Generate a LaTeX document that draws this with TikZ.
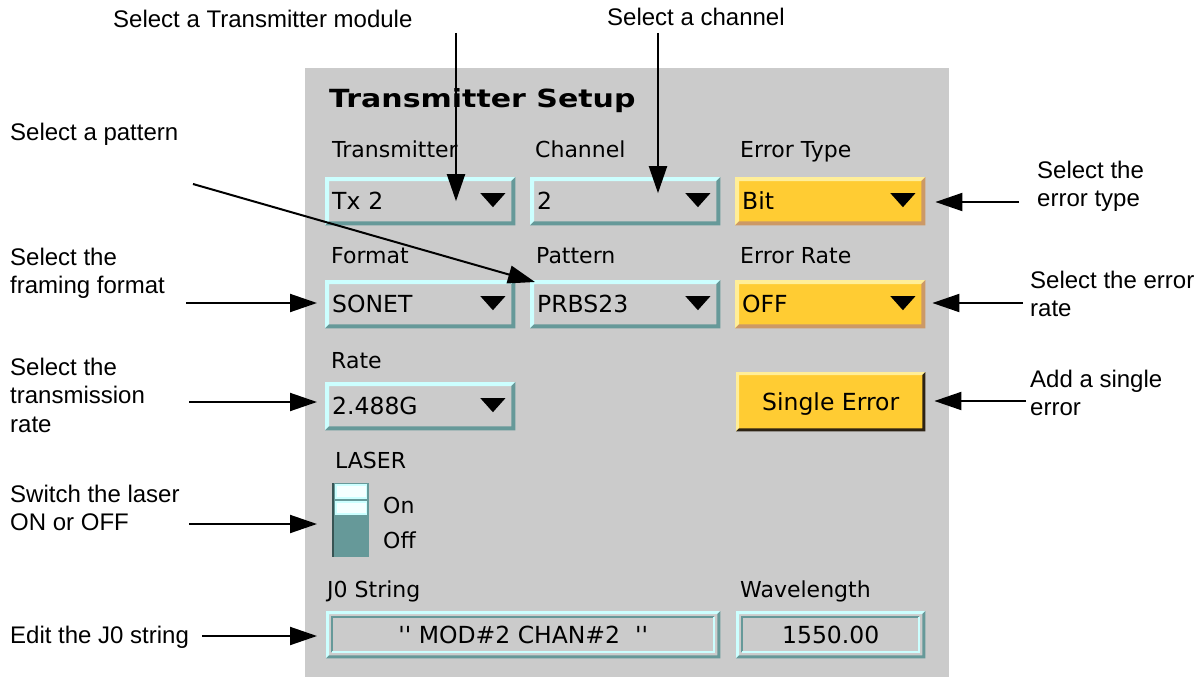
\documentclass[tikz,border=0pt]{standalone}
\usepackage{fontspec}
\setmainfont{Liberation Sans}
\newfontfamily\uifont{DejaVu Sans}
\newfontfamily\titlefont[FakeStretch=1.2]{DejaVu Sans}
\usetikzlibrary{arrows.meta}

\definecolor{panel}{RGB}{203,203,203}
\definecolor{cyanlt}{RGB}{204,255,255}
\definecolor{uiteal}{RGB}{102,153,153}
\definecolor{btnyellow}{RGB}{255,204,51}
\definecolor{btnlight}{RGB}{255,238,153}
\definecolor{btntan}{RGB}{204,153,102}
\definecolor{btndark}{RGB}{45,35,20}

% raised/sunken edge of a widget: node, light colour, dark colour, thickness
\newcommand\bevel[4]{%
  \fill[#2] (#1.south west) -- (#1.north west) -- (#1.north east)
     -- ([xshift=-#4pt,yshift=-#4pt]#1.north east)
     -- ([xshift=#4pt,yshift=-#4pt]#1.north west)
     -- ([xshift=#4pt,yshift=#4pt]#1.south west) -- cycle;
  \fill[#3] (#1.south west) -- (#1.south east) -- (#1.north east)
     -- ([xshift=-#4pt,yshift=-#4pt]#1.north east)
     -- ([xshift=-#4pt,yshift=#4pt]#1.south east)
     -- ([xshift=#4pt,yshift=#4pt]#1.south west) -- cycle;}
% black drop-down triangle at the right end of a combo box
\newcommand\dropmark[1]{%
  \fill ([xshift=-35pt,yshift=8pt]#1.east) -- ([xshift=-10pt,yshift=8pt]#1.east)
     -- ([xshift=-22.5pt,yshift=-6pt]#1.east) -- cycle;}
% inner sunken frame of a text entry
\newcommand\sunken[1]{%
  \draw[uiteal, line width=2pt] ([xshift=6pt,yshift=6pt]#1.south west)
     -- ([xshift=6pt,yshift=-6pt]#1.north west) -- ([xshift=-6pt,yshift=-6pt]#1.north east);
  \draw[cyanlt, line width=2pt] ([xshift=-6pt,yshift=-6pt]#1.north east)
     -- ([xshift=-6pt,yshift=6pt]#1.south east) -- ([xshift=6pt,yshift=6pt]#1.south west);}

\begin{document}
\begin{tikzpicture}[x=1pt,y=-1pt,
  ann/.style={anchor=base west, inner sep=0, font=\fontsize{24}{28.5}\selectfont},
  lab/.style={anchor=base west, inner sep=0, font=\uifont\fontsize{22}{26}\selectfont},
  box/.style={fill=panel, anchor=north west, inner ysep=0, inner xsep=7pt,
    font=\uifont\fontsize{23.5}{27}\selectfont, text height=17pt, text depth=0pt},
  dropbox/.style={box, minimum width=190pt, minimum height=48pt, text width=176pt, align=left},
  yellowbox/.style={dropbox, fill=btnyellow},
  entry/.style={box, minimum height=47pt, align=center},
  arr/.style={line width=2pt, -{Triangle[length=27pt,width=18pt]}}]

\path[use as bounding box] (0,0) rectangle (1201,677);
\fill[white] (0,0) rectangle (1201,677);
\fill[panel] (305,68) rectangle (949,677);

% panel contents
\node[anchor=base west, inner sep=0, font=\titlefont\bfseries\fontsize{25}{29}\selectfont]
  (title) at (329,107) {Transmitter Setup};

\node[lab] (lTx) at (332,157) {Transmitter};
\node[lab] (lCh) at (535,157) {Channel};
\node[lab] (lEt) at (740,157) {Error Type};
\node[dropbox] (txbox) at (325,177) {Tx 2};
\node[dropbox] (chbox) at (530,177) {2};
\node[yellowbox] (etbox) at (735,177) {Bit};

\node[lab] (lFmt) at (331,263) {Format};
\node[lab] (lPat) at (536,263) {Pattern};
\node[lab] (lEr) at (740,263) {Error Rate};
\node[dropbox] (fmtbox) at (325,280) {SONET};
\node[dropbox] (patbox) at (530,280) {PRBS23};
\node[yellowbox] (erbox) at (735,280) {OFF};

\node[lab] (lRate) at (331,368) {Rate};
\node[dropbox] (ratebox) at (325,382) {2.488G};
\node[box, fill=btnyellow, minimum width=189pt, minimum height=59pt, align=center]
  (single) at (736,372) {Single Error};

\node[lab] (lLaser) at (335,468) {LASER};
\node[fill=uiteal, minimum width=37pt, minimum height=74pt, anchor=north west, inner sep=0]
  (laser) at (332,483) {};
\node[lab] (lOn) at (383,513) {On};
\node[lab] (lOff) at (383,548) {Off};

\node[lab] (lJ0) at (327,597) {J0 String};
\node[lab] (lWl) at (740,597) {Wavelength};
\node[entry, minimum width=394pt] (j0box) at (326,611) {'' MOD\#2 CHAN\#2 \ ''};
\node[entry, minimum width=189pt] (wlbox) at (736,611) {1550.00};

% widget edges
\foreach \b in {txbox,chbox,fmtbox,patbox,ratebox}{\bevel{\b}{cyanlt}{uiteal}{4}}
\foreach \b in {etbox,erbox}{\bevel{\b}{btnlight}{btntan}{4}}
\bevel{single}{btnlight}{btndark}{3}
\foreach \b in {j0box,wlbox}{\bevel{\b}{cyanlt}{uiteal}{3}\sunken{\b}}
\foreach \b in {txbox,chbox,etbox,fmtbox,patbox,erbox,ratebox}{\dropmark{\b}}

% laser switch
\draw[cyanlt, fill=white!80!cyanlt, line width=1.5pt]
  ([xshift=4pt,yshift=-2pt]laser.north west) rectangle ([xshift=-3pt,yshift=-15pt]laser.north east);
\draw[cyanlt, fill=white!80!cyanlt, line width=1.5pt]
  ([xshift=4pt,yshift=-19pt]laser.north west) rectangle ([xshift=-3pt,yshift=-31pt]laser.north east);
\draw[uiteal!55!black, line width=2pt]
  ([xshift=1pt]laser.north west) -- ([xshift=1pt]laser.south west);

% annotations
\node[ann] (aTx) at (113,28) {Select a Transmitter module};
\node[ann] (aCh) at (607,26) {Select a channel};
\node[ann] (aPat) at (10,140) {Select a pattern};
\node[ann] (aFmt) at (10,265) {\begin{tabular}[t]{@{}l@{}}Select the\\framing format\end{tabular}};
\node[ann] (aRate) at (10,375) {\begin{tabular}[t]{@{}l@{}}Select the\\transmission\\rate\end{tabular}};
\node[ann] (aLas) at (10,502) {\begin{tabular}[t]{@{}l@{}}Switch the laser\\ON or OFF\end{tabular}};
\node[ann] (aJ0) at (10,643) {Edit the J0 string};
\node[ann] (aEt) at (1037,178) {\begin{tabular}[t]{@{}l@{}}Select the\\error type\end{tabular}};
\node[ann] (aEr) at (1030,288) {\begin{tabular}[t]{@{}l@{}}Select the error\\rate\end{tabular}};
\node[ann] (aSe) at (1030,387) {\begin{tabular}[t]{@{}l@{}}Add a single\\error\end{tabular}};

% arrow tails
\coordinate (tTx) at (456,33);
\coordinate (tCh) at (658,33);
\coordinate (tPat) at (193,184);
\coordinate (tFmt) at (186,303);
\coordinate (tRate) at (189,402);
\coordinate (tLas) at (189,524);
\coordinate (tJ0) at (202,636);
\coordinate (tEt) at (1019,202);
\coordinate (tEr) at (1023,303);
\coordinate (tSe) at (1026,401);

\draw[arr] (tTx) -- (tTx |- txbox.center);
\draw[arr, shorten >=8pt] (tCh) -- (tCh |- chbox.center);
\draw[arr] (tPat) -- ([xshift=5pt,yshift=-2pt]patbox.north west);
\draw[arr, shorten >=8pt] (tFmt) -- (tFmt -| fmtbox.west);
\draw[arr, shorten >=8pt] (tRate) -- (tRate -| ratebox.west);
\draw[arr, shorten >=15pt] (tLas) -- (tLas -| laser.west);
\draw[arr, shorten >=9pt] (tJ0) -- (tJ0 -| j0box.west);
\draw[arr, shorten >=10pt] (tEt) -- (tEt -| etbox.east);
\draw[arr, shorten >=7pt] (tEr) -- (tEr -| erbox.east);
\draw[arr, shorten >=9pt] (tSe) -- (tSe -| single.east);
\end{tikzpicture}
\end{document}
